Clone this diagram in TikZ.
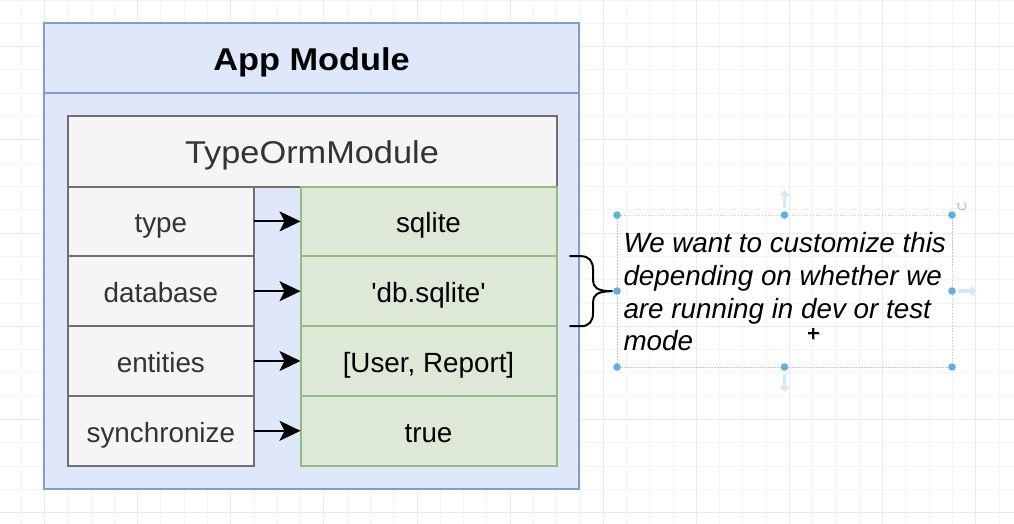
\documentclass[tikz,border=0pt]{standalone}
\usepackage{fontspec}
\setmainfont{Liberation Sans}
\newfontfamily\hdrfont{Liberation Sans}[FakeStretch=1.09]
\usetikzlibrary{arrows.meta}
\definecolor{bluefill}{HTML}{DFE8FA}
\definecolor{bluestroke}{HTML}{7F9DCF}
\definecolor{grayfill}{HTML}{F5F5F5}
\definecolor{graystroke}{HTML}{6F6F6F}
\definecolor{greenfill}{HTML}{DDE9D6}
\definecolor{greenstroke}{HTML}{92BD80}
\definecolor{txtgray}{HTML}{333333}
\definecolor{gridminor}{HTML}{F4F4F4}
\definecolor{gridmajor}{HTML}{EAEAEA}
\definecolor{handle}{HTML}{5FB0E6}
\definecolor{handlelight}{HTML}{D3E9F8}
\definecolor{selline}{HTML}{C6C6C6}
\tikzset{
  cell/.style={rectangle, inner sep=0pt, outer sep=0pt, anchor=north west, line width=2pt},
  rowtext/.style={font=\fontsize{27.8}{33}\selectfont, text height=24pt, text depth=1.4pt},
  keycell/.style={cell, rowtext, fill=grayfill, draw=graystroke, text=txtgray, minimum width=186.7pt, minimum height=69.8pt},
  valcell/.style={cell, rowtext, fill=greenfill, draw=greenstroke, text=black, minimum width=256pt, minimum height=69.8pt},
  hdrtext/.style={font=\hdrfont\fontsize{31.5}{36}\selectfont, text height=26pt, text depth=1.6pt},
  maparrow/.style={line width=2pt, -{Stealth[length=21pt, width=20pt, inset=5pt]}},
  hdot/.style={fill=handle, draw=none},
  ghostarrow/.style={handlelight, line width=3.2pt, -{Triangle[length=6pt, width=10pt]}}
}
\begin{document}
\begin{tikzpicture}[x=1pt, y=-1pt]
\useasboundingbox (0,0) rectangle (1014,524);
\fill[white] (0,0) rectangle (1014,524);
% grid
\foreach \k in {0,...,44} \draw[gridminor, line width=1pt] ({-2+23.28*\k},0) -- ({-2+23.28*\k},524);
\foreach \k in {0,...,23} \draw[gridminor, line width=1pt] (0,{0.1+23.3*\k}) -- (1014,{0.1+23.3*\k});
\foreach \k in {0,...,11} \draw[gridmajor, line width=1pt] ({-48.5+93.12*\k},0) -- ({-48.5+93.12*\k},524);
\foreach \k in {0,...,6} \draw[gridmajor, line width=1pt] (0,{-46.5+93.2*\k}) -- (1014,{-46.5+93.2*\k});

% App module container
\node[cell, fill=bluefill, draw=bluestroke, minimum width=535pt, minimum height=465.5pt] (app) at (44,23.5) {};
\node[cell, hdrtext, fill=bluefill, draw=bluestroke, minimum width=535pt, minimum height=69.5pt] (apphdr) at (44,23.5) {\bfseries App Module};

% TypeOrmModule
\node[cell, hdrtext, fill=grayfill, draw=graystroke, text=txtgray, minimum width=489pt, minimum height=70pt, text height=25pt, text depth=1.4pt] (orm) at (67.5,116.5) {TypeOrmModule};

% rows
\node[keycell] (k1) at (67.5,186.5) {type};
\node[keycell] (k2) at (67.5,256.3) {database};
\node[keycell] (k3) at (67.5,326.1) {entities};
\node[keycell] (k4) at (67.5,395.9) {synchronize};
\node[valcell] (v1) at (300.5,186.5) {sqlite};
\node[valcell] (v2) at (300.5,256.3) {\textquotesingle db.sqlite\textquotesingle};
\node[valcell] (v3) at (300.5,326.1) {[User, Report]};
\node[valcell] (v4) at (300.5,395.9) {true};

\foreach \i in {1,...,4} \draw[maparrow] (k\i.east) -- (v\i.west);

% brace
\begin{scope}[shift={(v2.east)}]
\draw[line width=2pt, line cap=round, line join=round]
  (13.5,-35) -- (24.5,-35) .. controls (32.5,-35) and (36.5,-30) .. (36.5,-22) -- (36.5,-11)
  .. controls (36.5,-4) and (40.5,0) .. (55.5,0)
  .. controls (40.5,0) and (36.5,4) .. (36.5,11) -- (36.5,22)
  .. controls (36.5,30) and (32.5,35) .. (24.5,35) -- (13.5,35);
\end{scope}

% selection frame
\draw[selline, line width=1pt, dash pattern=on 1.5pt off 1.5pt] (617,215) rectangle (952,367);

% note text
\node[anchor=base west, inner sep=0pt, font=\itshape\fontsize{27.8}{32.7}\selectfont] (note) at (623.3,252.7)
  {\begin{tabular}[t]{@{}l@{}}We want to customize this\\depending on whether we\\are running in dev or test\\mode\end{tabular}};

% handles
\foreach \hx/\hy in {617/215, 784.5/215, 952/215, 617/291, 952/291, 617/367, 784.5/367, 952/367}
  \fill[hdot] (\hx,\hy) circle (3.8pt);
\draw[ghostarrow] (784.5,208) -- (784.5,190);
\draw[ghostarrow] (784.5,374) -- (784.5,392);
\draw[ghostarrow] (958,291) -- (977,291);
% rotate handle
\draw[handle!60, line width=1.2pt, -{Stealth[length=3pt, width=4pt]}] (962,206) ++(-60:4) arc[start angle=-60, end angle=230, radius=4];

% move cursor
\begin{scope}[shift={(813,333)}]
\draw[black!30, line width=2.4pt] (-5,1) -- (7,1) (1,-5) -- (1,7);
\draw[black, line width=1.4pt] (-5.5,0) -- (5.5,0) (0,-5.5) -- (0,5.5);
\end{scope}
\end{tikzpicture}
\end{document}
